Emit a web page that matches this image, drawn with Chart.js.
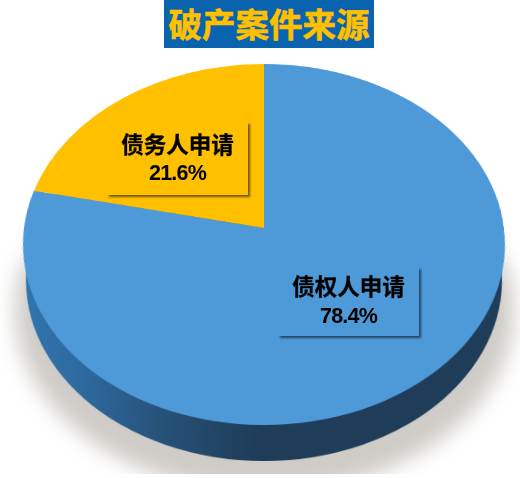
<!DOCTYPE html>
<html lang="zh">
<head>
<meta charset="utf-8">
<title>破产案件来源</title>
<script src="https://cdn.jsdelivr.net/npm/chart.js@4"></script>
<style>
    html, body { margin: 0; background: #fff; }
    #stage { position: relative; width: 520px; height: 478px; overflow: hidden; font-family: "Noto Sans CJK SC", sans-serif; }
    #stage canvas { position: absolute; left: 0; top: 0; transform-origin: 0 0; }
    #shadow-clip { position: absolute; left: 0; top: 0; width: 520px; height: 474px; overflow: hidden; -webkit-mask-image: linear-gradient(to bottom, transparent 225px, #000 270px); mask-image: linear-gradient(to bottom, transparent 225px, #000 270px); }
    #shadow { position: absolute; left: 15px; top: 130px; width: 499px; height: 362px; border-radius: 50%; background: #cfcbc7; filter: blur(10px); }
    #title { position: absolute; left: 164px; top: 0; width: 210px; height: 48px; background: #0a63ae; color: #ffc000; font-size: 33.5px; font-weight: 700; line-height: 46px; text-align: center; white-space: nowrap; -webkit-text-stroke: .6px #ffc000; }
    .label { position: absolute; box-sizing: border-box; box-shadow: 2px 2px 2px rgba(0, 0, 0, .55); color: #000; text-align: center; font-weight: 700; }
    .label .name { position: absolute; left: 0; right: 0; font-size: 22.5px; line-height: 30px; -webkit-text-stroke: .3px #000; }
    .label .pct { position: absolute; left: 0; right: 0; font-family: "Liberation Sans", sans-serif; font-size: 21.5px; letter-spacing: -.8px; line-height: 26px; }
</style>
</head>
<body>
<div id="stage">
    <div id="shadow-clip"><div id="shadow"></div></div>
    <canvas id="wall" width="480" height="480"></canvas>
    <canvas id="pie" width="480" height="480"></canvas>
    <div id="title"></div>
    <div class="label" id="label0" style="left:278px;top:267px;width:141px;height:69px"><div class="name" style="top:3px"></div><div class="pct" style="top:36px"></div></div>
    <div class="label" id="label1" style="left:107px;top:122px;width:141px;height:73px"><div class="name" style="top:6px"></div><div class="pct" style="top:38px"></div></div>
</div>
<script>
const chartTitle = '破产案件来源';
const categories = ['债权人申请', '债务人申请'];
const shares = [78.4, 21.6];
const sliceColors = ['#4e9ad9', '#ffc000'];

// the picture is a tilted pie, so the flat pie gets a perspective matrix
function tilt(chart, centerY, halfWidth) {
    const arc = chart.getDatasetMeta(0).data[0];
    const R = arc.outerRadius, cu = arc.x, cv = arc.y;
    const a = halfWidth, b = 179, k = -0.0914, X0 = 264, Y0 = centerY;
    const m = [
        a / R, 0, 0, 0,
        X0 * k / R, (Y0 * k + b) / R, 0, k / R,
        0, 0, 1, 0,
        X0 - a * cu / R - X0 * k * cv / R, Y0 - (Y0 * k + b) * cv / R, 0, 1 - k * cv / R
    ];
    chart.canvas.style.transform = 'matrix3d(' + m.join(',') + ')';
}

function makePie(id, values, colors) {
    return new Chart(document.getElementById(id), {
        type: 'pie',
        data: { labels: categories.slice(0, values.length), datasets: [{ data: values, backgroundColor: colors, borderWidth: 0 }] },
        options: {
            responsive: false,
            animation: false,
            layout: { padding: 0 },
            plugins: { legend: { display: false }, tooltip: { enabled: false }, title: { display: false } }
        }
    });
}

// side wall, dark blue getting lighter to the left
const wallCtx = document.getElementById('wall').getContext('2d');
const wallFill = wallCtx.createLinearGradient(0, 0, 480, 0);
wallFill.addColorStop(0, '#3174ae');
wallFill.addColorStop(0.12, '#2e6ca2');
wallFill.addColorStop(0.32, '#264f75');
wallFill.addColorStop(0.48, '#1f3d58');
wallFill.addColorStop(1, '#1f3d58');

tilt(makePie('wall', [100], [wallFill]), 264, 237);
tilt(makePie('pie', shares, sliceColors), 228, 240);

document.getElementById('title').textContent = chartTitle;
categories.forEach(function(name, i) {
    const box = document.getElementById('label' + i);
    box.querySelector('.name').textContent = name;
    box.querySelector('.pct').textContent = shares[i].toFixed(1) + '%';
});
</script>
</body>
</html>
